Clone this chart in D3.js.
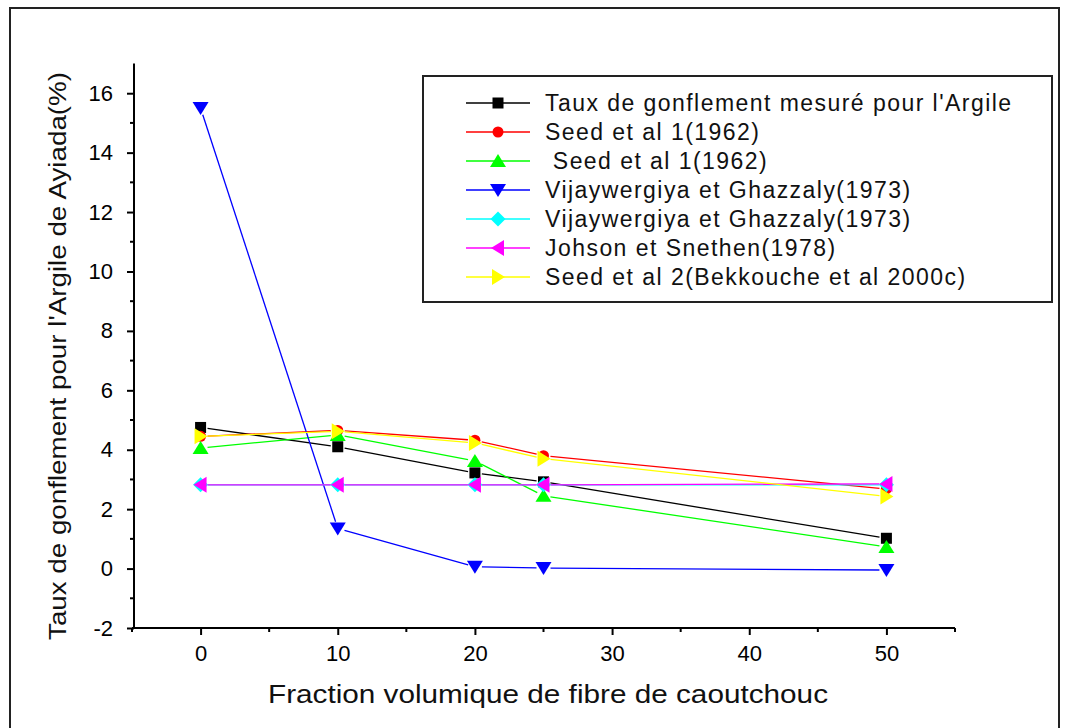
<!DOCTYPE html>
<html>
<head>
<meta charset="utf-8">
<script src="https://cdn.jsdelivr.net/npm/d3@7/dist/d3.min.js"></script>
<style>
  html, body { margin: 0; padding: 0; background: #fff; }
  svg { display: block; font-family: "Liberation Sans", Arial, sans-serif; }
  .tick text { font-size: 22px; }
</style>
</head>
<body>
<svg id="chart" width="1066" height="728"></svg>
<script>
// ---- data ----
const xValues = [0, 10, 20, 25, 50];
const seriesNames = [
  "Taux de gonflement mesuré pour l'Argile",
  "Seed et al 1(1962)",
  " Seed et al 1(1962)",
  "Vijaywergiya et Ghazzaly(1973)",
  "Vijaywergiya et Ghazzaly(1973)",
  "Johson et Snethen(1978)",
  "Seed et al 2(Bekkouche et al 2000c)"
];
const mesure   = [4.75, 4.10, 3.22, 2.92, 1.02];
const seed1a   = [4.45, 4.65, 4.32, 3.80, 2.68];
const seed1b   = [4.06, 4.50, 3.62, 2.45, 0.73];
const vijay1   = [15.5, 1.35, 0.06, 0.02, -0.05];
const vijay2   = [2.82, 2.82, 2.82, 2.82, 2.82];
const johnson  = [2.82, 2.82, 2.82, 2.82, 2.85];
const seed2    = [4.45, 4.62, 4.23, 3.70, 2.43];
const xTicks = [0, 10, 20, 30, 40, 50];
const yTicks = [-2, 0, 2, 4, 6, 8, 10, 12, 14, 16];
const xTitle = "Fraction volumique de fibre de caoutchouc";
const yTitle = "Taux de gonflement pour l'Argile de Ayiada(%)";

const seriesValues = [mesure, seed1a, seed1b, vijay1, vijay2, johnson, seed2];
const colors = ["#000000", "#ff0000", "#00ff00", "#0000ff", "#00ffff", "#ff00ff", "#ffff00"];
const shapes = ["square", "circle", "triUp", "triDown", "diamond", "triLeft", "triRight"];

// ---- layout ----
const svg = d3.select("#chart");
const x = d3.scaleLinear().domain([-5, 55]).range([132, 955]);
const y = d3.scaleLinear().domain([-2, 17]).range([628, 63.5]);

// outer frame
svg.append("rect").attr("x", 10).attr("y", 8).attr("width", 1049).attr("height", 740)
  .attr("fill", "none").attr("stroke", "#222").attr("stroke-width", 2);

const fmt = d => String(d);
// axes
const xAxis = d3.axisBottom(x).tickValues(xTicks).tickSize(7).tickPadding(10).tickFormat(fmt);
const gx = svg.append("g").attr("transform", "translate(0,628)").call(xAxis);
const yAxis = d3.axisLeft(y).tickValues(yTicks).tickSize(7).tickPadding(14).tickFormat(fmt);
const gy = svg.append("g").attr("transform", "translate(134,0)").call(yAxis);
[gx, gy].forEach(g => {
  g.attr("font-size", null).attr("font-family", null);
  g.select(".domain").attr("stroke", "#000").attr("stroke-width", 2);
  g.selectAll(".tick line").attr("stroke", "#000").attr("stroke-width", 2);
  g.selectAll(".tick text").attr("fill", "#000")
    .style("font-size", "22px")
    .style("font-family", "'Liberation Sans', Arial, sans-serif");
});
gx.select(".domain").attr("d", `M${x(-5)},0H${x(55)}`);
gy.select(".domain").attr("d", `M0,${y(-2)}V${y(17)}`);
// minor ticks
const xMinor = d3.range(-5, 56, 10);
const yMinor = d3.range(-1, 17, 2);
gx.selectAll(".minor").data(xMinor).join("line").attr("class", "minor")
  .attr("x1", d => x(d)).attr("x2", d => x(d)).attr("y1", 0).attr("y2", 4)
  .attr("stroke", "#000").attr("stroke-width", 2);
gy.selectAll(".minor").data(yMinor).join("line").attr("class", "minor")
  .attr("y1", d => y(d)).attr("y2", d => y(d)).attr("x1", 0).attr("x2", -4)
  .attr("stroke", "#000").attr("stroke-width", 2);

// titles
svg.append("text").attr("x", 548).attr("y", 703).attr("text-anchor", "middle")
  .attr("font-size", 25).attr("fill", "#111")
  .attr("textLength", 560).attr("lengthAdjust", "spacingAndGlyphs").text(xTitle);
svg.append("text").attr("transform", "translate(66,356) rotate(-90)").attr("text-anchor", "middle")
  .attr("font-size", 23).attr("fill", "#111")
  .attr("textLength", 568).attr("lengthAdjust", "spacingAndGlyphs").text(yTitle);

// marker paths
function markerPath(shape) {
  switch (shape) {
    case "square": return "M-5.5,-5.5H5.5V5.5H-5.5Z";
    case "circle": return d3.arc()({innerRadius: 0, outerRadius: 5.5, startAngle: 0, endAngle: 2 * Math.PI});
    case "triUp": return "M0,-7L8,6H-8Z";
    case "triDown": return "M0,7L8,-6H-8Z";
    case "diamond": return "M0,-7.5L7.5,0L0,7.5L-7.5,0Z";
    case "triLeft": return "M-7,0L6,-8V8Z";
    case "triRight": return "M7,0L-6,-8V8Z";
  }
}

const gap = 7;
const plot = svg.append("g");
seriesValues.forEach((vals, i) => {
  const pts = xValues.map((xv, j) => [x(xv), y(vals[j])]);
  const g = plot.append("g");
  const segs = d3.pairs(pts).map(([a, b]) => {
    const dx = b[0] - a[0], dy = b[1] - a[1];
    const L = Math.hypot(dx, dy);
    if (L <= 2 * gap) return null;
    const ux = dx / L, uy = dy / L;
    return [[a[0] + ux * gap, a[1] + uy * gap], [b[0] - ux * gap, b[1] - uy * gap]];
  }).filter(Boolean);
  g.selectAll("line").data(segs).join("line")
    .attr("x1", d => d[0][0]).attr("y1", d => d[0][1])
    .attr("x2", d => d[1][0]).attr("y2", d => d[1][1])
    .attr("stroke", colors[i]).attr("stroke-width", 1.3);
  g.selectAll("path").data(pts).join("path")
    .attr("transform", d => `translate(${d[0]},${d[1]})`)
    .attr("d", markerPath(shapes[i])).attr("fill", colors[i]);
});

// legend
const leg = svg.append("g");
leg.append("rect").attr("x", 423).attr("y", 76).attr("width", 629).attr("height", 226)
  .attr("fill", "#fff").attr("stroke", "#222").attr("stroke-width", 2);
seriesNames.forEach((name, i) => {
  const yy = 103 + i * 29;
  const r = leg.append("g");
  r.append("line").attr("x1", 466).attr("x2", 530).attr("y1", yy).attr("y2", yy)
    .attr("stroke", colors[i]).attr("stroke-width", 1.3);
  r.append("path").attr("transform", `translate(498,${yy})`).attr("d", markerPath(shapes[i])).attr("fill", colors[i]);
  r.append("text").attr("x", 545).attr("y", yy + 8).attr("font-size", 23).attr("fill", "#111")
    .attr("letter-spacing", 1.45).attr("xml:space", "preserve").text(name);
});
</script>
</body>
</html>
